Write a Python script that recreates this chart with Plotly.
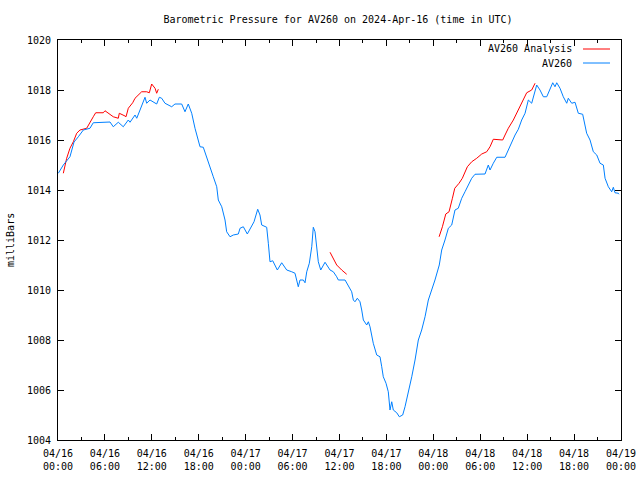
import pandas as pd
import plotly.graph_objects as go

START = pd.Timestamp("2024-04-16 00:00")

# AV260 observed series: hours since 2024-04-16 00:00 UTC, pressure (mb)
obs_hours = [0.04, 0.68, 1.53, 2.05, 2.60, 3.24, 4.09, 4.51, 6.65, 7.07, 7.71, 8.35, 8.99, 9.21,
             9.85, 10.07, 10.49, 11.13, 11.34, 11.77, 12.62, 12.96, 13.26, 13.68, 14.54, 14.96,
             15.82, 16.24, 16.66, 17.10, 17.52, 17.94, 18.16, 18.58, 19.02, 19.44, 19.86, 20.30,
             20.50, 20.94, 21.36, 21.57, 22.00, 22.42, 23.06, 23.28, 23.70, 24.21, 24.77, 25.07,
             25.54, 25.83, 26.05, 26.69, 26.90, 27.11, 27.46, 28.05, 28.61, 29.25, 29.89, 30.31,
             30.73, 30.95, 31.37, 31.59, 31.81, 32.14, 32.45, 32.65, 32.87, 33.09, 33.29, 33.60,
             34.15, 34.79, 35.21, 35.64, 35.85, 36.71, 37.13, 37.56, 37.77, 37.98, 38.28, 38.62,
             38.84, 39.05, 39.48, 39.69, 39.90, 40.12, 40.32, 40.76, 41.18, 41.40, 41.60, 41.95,
             42.24, 42.46, 42.68, 42.88, 43.32, 43.65, 44.08, 44.38, 44.80, 45.24, 45.66, 46.08,
             46.51, 46.94, 47.36, 47.79, 48.21, 48.76, 49.07, 49.49, 49.92, 50.35, 50.77, 51.19,
             51.63, 52.05, 52.47, 52.91, 53.33, 53.97, 54.61, 55.03, 55.25, 55.67, 56.11, 57.17,
             57.59, 58.02, 58.45, 58.87, 59.30, 59.73, 60.15, 60.58, 61.01, 61.22, 61.64, 62.07,
             62.50, 62.92, 63.27, 63.56, 63.78, 64.20, 64.62, 65.06, 65.26, 65.70, 66.12, 66.54,
             67.10, 67.61, 68.04, 68.46, 68.90, 69.32, 69.74, 69.96, 70.38, 70.81, 71.02, 71.23,
             71.66, 71.74]
obs_values = [1014.67, 1015.00, 1015.33, 1015.92, 1016.13, 1016.40, 1016.47, 1016.69, 1016.72,
              1016.53, 1016.71, 1016.53, 1016.80, 1016.71, 1017.00, 1016.87, 1017.20, 1017.71,
              1017.47, 1017.60, 1017.44, 1017.71, 1017.67, 1017.47, 1017.33, 1017.44, 1017.44,
              1017.13, 1017.44, 1017.07, 1016.47, 1016.00, 1015.73, 1015.71, 1015.33, 1014.93,
              1014.53, 1014.13, 1013.60, 1013.33, 1012.80, 1012.33, 1012.13, 1012.20, 1012.24,
              1012.47, 1012.53, 1012.24, 1012.53, 1012.73, 1013.23, 1013.00, 1012.60, 1012.51,
              1011.87, 1011.13, 1011.17, 1010.80, 1011.09, 1010.80, 1010.73, 1010.67, 1010.13,
              1010.40, 1010.40, 1010.29, 1010.73, 1011.07, 1011.73, 1012.51, 1012.33, 1011.73,
              1011.13, 1010.80, 1011.11, 1010.80, 1010.73, 1010.53, 1010.40, 1010.40, 1010.16,
              1009.93, 1009.60, 1009.53, 1009.67, 1009.53, 1009.20, 1008.80, 1008.60, 1008.73,
              1008.53, 1008.13, 1007.87, 1007.40, 1007.33, 1006.93, 1006.53, 1006.27, 1005.93,
              1005.20, 1005.53, 1005.20, 1005.09, 1004.93, 1005.00, 1005.33, 1005.87, 1006.53,
              1007.20, 1008.00, 1008.40, 1008.93, 1009.60, 1010.00, 1010.40, 1011.00, 1011.60,
              1012.00, 1012.47, 1012.60, 1013.20, 1013.27, 1013.67, 1013.93, 1014.20, 1014.47,
              1014.63, 1014.64, 1014.64, 1015.00, 1014.80, 1015.07, 1015.31, 1015.31, 1015.60,
              1015.93, 1016.20, 1016.43, 1016.80, 1017.07, 1017.60, 1017.47, 1018.00, 1018.20,
              1018.00, 1017.73, 1017.73, 1018.00, 1018.29, 1018.13, 1018.29, 1018.07, 1017.73,
              1017.47, 1017.67, 1017.47, 1017.51, 1017.07, 1017.03, 1016.27, 1016.00, 1015.53,
              1015.40, 1015.07, 1015.00, 1014.47, 1014.13, 1013.93, 1014.11, 1013.89, 1013.87,
              1013.83]

# AV260 Analysis series (None separates the three analysis segments)
ana_hours = [0.68, 1.11, 1.53, 1.96, 2.39, 2.81, 3.67, 4.09, 4.51, 4.82, 5.79, 6.01, 6.65, 7.07,
             7.71, 7.84, 8.57, 8.70, 8.99, 9.55, 9.85, 10.27, 10.70, 11.34, 11.68, 11.98, 12.41,
             12.62, 12.83, 12.90,
             34.79, 35.17, 35.64, 36.28, 36.92, 37.00,
             48.74, 49.16, 49.59, 50.01, 50.44, 50.74, 51.29, 51.71, 52.35, 52.91, 53.55, 54.19,
             54.83, 55.25, 55.67, 56.31, 56.87, 57.17, 57.59, 58.23, 58.87, 59.51, 59.94, 60.58,
             61.01]
ana_values = [1014.67, 1015.27, 1015.67, 1015.93, 1016.27, 1016.40, 1016.47, 1016.73, 1016.93,
              1017.09, 1017.09, 1017.17, 1017.04, 1016.93, 1016.87, 1017.07, 1016.96, 1016.93,
              1017.27, 1017.49, 1017.67, 1017.80, 1017.93, 1017.93, 1017.89, 1018.24, 1018.07,
              1017.87, 1018.03, None,
              1011.51, 1011.28, 1011.00, 1010.80, 1010.63, None,
              1012.13, 1012.53, 1013.04, 1013.13, 1013.67, 1014.07, 1014.27, 1014.47, 1014.93,
              1015.13, 1015.27, 1015.44, 1015.53, 1015.73, 1016.03, 1016.03, 1016.00, 1016.20,
              1016.47, 1016.80, 1017.20, 1017.60, 1017.89, 1018.00, 1018.27]

title_text = "Barometric Pressure for AV260 on 2024-Apr-16 (time in UTC)"
y_title = "milliBars"
series_names = ["AV260 Analysis", "AV260"]
series_colors = ["#ff0000", "#0080ff"]

FONT = "DejaVu Sans Mono"

def to_time(hours):
    return [START + pd.to_timedelta(h, unit="h") for h in hours]

fig = go.Figure()
fig.add_trace(go.Scatter(x=to_time(ana_hours), y=ana_values, mode="lines",
                         name=series_names[0], connectgaps=False,
                         line=dict(color=series_colors[0], width=1)))
fig.add_trace(go.Scatter(x=to_time(obs_hours), y=obs_values, mode="lines",
                         name=series_names[1],
                         line=dict(color=series_colors[1], width=1)))

L, R, T, B = 58, 19, 40, 40
W, H = 640, 480
pw, ph = W - L - R, H - T - B

def px_x(x):
    return (x - L) / pw

def px_y(y):
    return 1 - (y - T) / ph

# gnuplot-style legend (text left of sample line)
legend_rows = [49, 63]
for name, color, yy in zip(series_names, series_colors, legend_rows):
    fig.add_annotation(x=px_x(574), y=px_y(yy), xref="paper", yref="paper",
                       text=name, showarrow=False, xanchor="right", yanchor="middle",
                       font=dict(family=FONT, size=10, color="black"))
    fig.add_shape(type="line", xref="paper", yref="paper",
                  x0=px_x(583), x1=px_x(610), y0=px_y(yy), y1=px_y(yy),
                  line=dict(color=color, width=1))

fig.add_annotation(x=px_x(10), y=0.5, xref="paper", yref="paper", text=y_title,
                   textangle=-90, showarrow=False, xanchor="center", yanchor="middle",
                   font=dict(family=FONT, size=10, color="black"))

fig.update_layout(
    width=W, height=H,
    margin=dict(l=L, r=R, t=T, b=B, autoexpand=False),
    paper_bgcolor="white", plot_bgcolor="white",
    showlegend=False,
    font=dict(family=FONT, size=10, color="black"),
    title=dict(text=title_text, x=px_x(338), xref="paper", xanchor="center",
               y=1 - 19 / H, yanchor="middle", yref="container",
               font=dict(family=FONT, size=10, color="black")),
)
fig.update_xaxes(
    type="date", automargin=False,
    range=[START, START + pd.Timedelta(hours=72)],
    dtick=6 * 3600 * 1000, tick0=START,
    tickformat="%m/%d<br>%H:%M",
    ticks="inside", ticklen=6, tickcolor="black", tickwidth=1,
    minor=dict(dtick=3 * 3600 * 1000, ticks="inside", ticklen=3, tickcolor="black"),
    showgrid=False, zeroline=False,
    showline=True, linecolor="black", linewidth=1, mirror="ticks",
    ticklabelstandoff=4,
)
fig.update_yaxes(
    range=[1004, 1020], dtick=2, tick0=1004, automargin=False,
    ticks="inside", ticklen=6, tickcolor="black", tickwidth=1,
    showgrid=False, zeroline=False,
    showline=True, linecolor="black", linewidth=1, mirror="ticks",
    ticklabelstandoff=4,
)

fig.write_html("out.html")
